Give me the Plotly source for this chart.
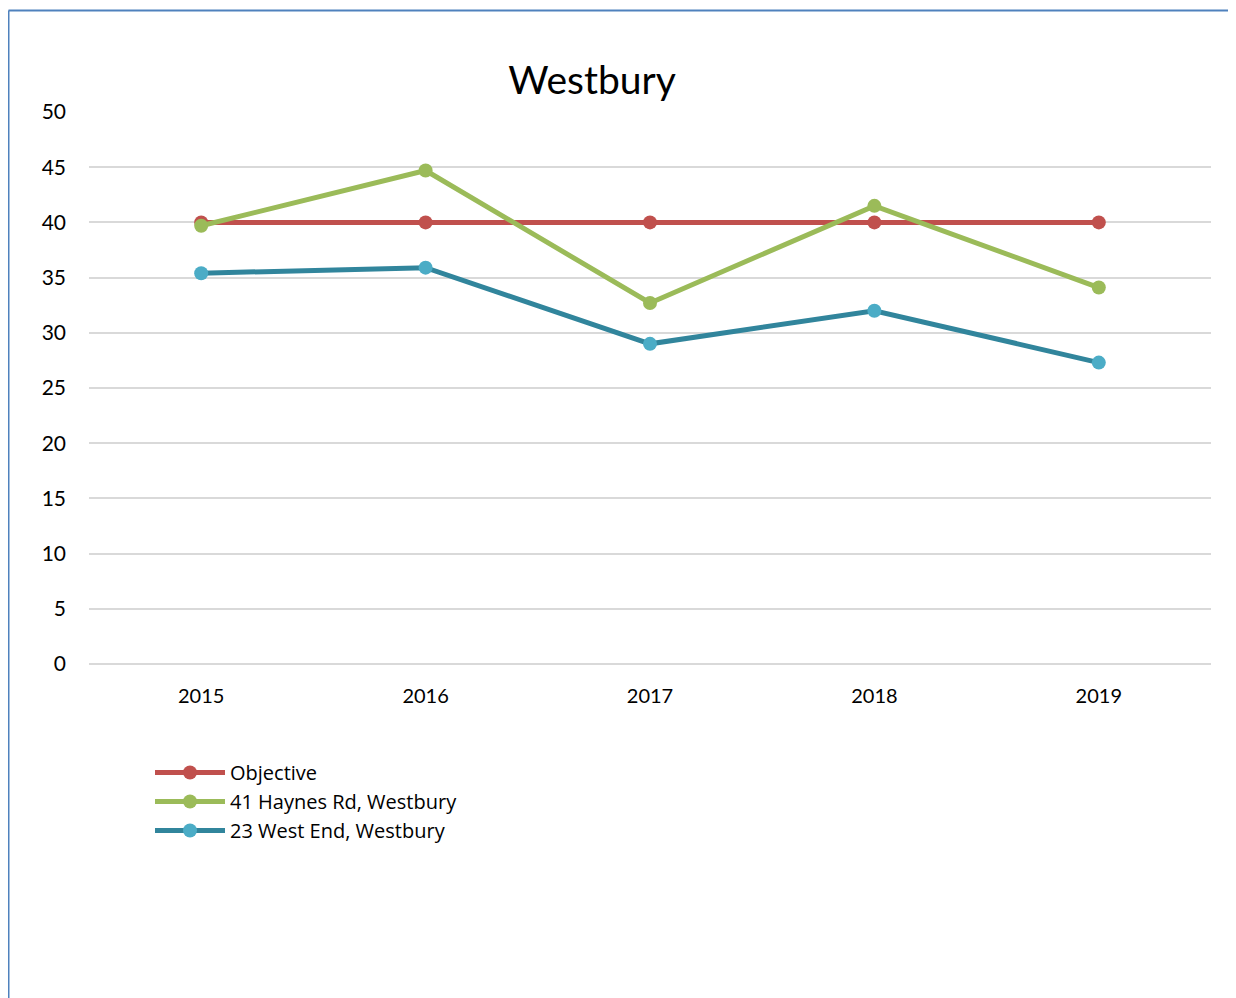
import plotly.graph_objects as go

years = ["2015", "2016", "2017", "2018", "2019"]
objective = [40, 40, 40, 40, 40]
haynes = [39.7, 44.7, 32.7, 41.5, 34.1]
west_end = [35.4, 35.9, 29.0, 32.0, 27.3]

OFF = 8  # page body margin
W, H = 1236 - OFF, 998 - OFF
L, R, T, B = 89 - OFF, 1211 - OFF, 112 - OFF, 664 - OFF

def px(x):
    return (x - OFF - L) / (R - L)

def py(y):
    return (B - (y - OFF)) / (B - T)

FONT = "Lato"

fig = go.Figure()
fig.add_trace(go.Scatter(x=years, y=objective, name="Objective", mode="lines+markers",
                         line=dict(color="#C0504D", width=5),
                         marker=dict(color="#C0504D", size=14)))
fig.add_trace(go.Scatter(x=years, y=haynes, name="41 Haynes Rd, Westbury", mode="lines+markers",
                         line=dict(color="#9BBB59", width=5),
                         marker=dict(color="#9BBB59", size=14)))
fig.add_trace(go.Scatter(x=years, y=west_end, name="23 West End, Westbury", mode="lines+markers",
                         line=dict(color="#31859C", width=5),
                         marker=dict(color="#4BACC6", size=14)))

border = dict(color="#4F81BD", width=2)
fig.add_shape(type="line", xref="paper", yref="paper", x0=px(8.5), x1=px(1240), y0=py(10.5), y1=py(10.5), line=border)
fig.add_shape(type="line", xref="paper", yref="paper", x0=px(8.5), x1=px(8.5), y0=py(10.5), y1=py(1000), line=border)

fig.update_layout(
    width=W, height=H,
    margin=dict(l=L, r=W - R, t=T, b=H - B),
    paper_bgcolor="white", plot_bgcolor="white",
    font=dict(family=FONT, color="#000000", size=20),
    title=dict(text="Westbury", x=px(592), xref="paper", xanchor="center",
               y=1 - (80 - OFF) / H, yref="container", yanchor="middle",
               font=dict(size=39, family=FONT, color="#000000")),
    xaxis=dict(type="category", range=[-0.5, 4.5], showgrid=False, showline=False,
               zeroline=False, ticks="", tickfont=dict(size=20), ticklabelstandoff=18),
    yaxis=dict(range=[0, 50], dtick=5, tick0=0, showgrid=True, gridcolor="#D9D9D9", gridwidth=1.5,
               zeroline=True, zerolinecolor="#D9D9D9", zerolinewidth=1.5, showline=False,
               ticks="", tickfont=dict(size=21), ticklabelstandoff=22),
    showlegend=True,
    legend=dict(x=px(150), y=py(753), xanchor="left", yanchor="top", orientation="v",
                font=dict(size=20, family="Open Sans"), itemwidth=70, tracegroupgap=0,
                bgcolor="rgba(0,0,0,0)"),
)

fig.write_html("out.html")
